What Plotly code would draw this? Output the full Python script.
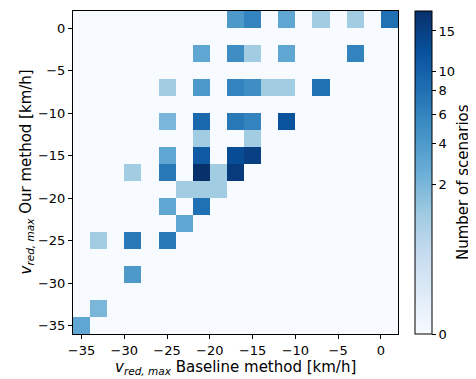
import plotly.graph_objects as go

# bin centres (2 km/h bins from -36 to 2)
bin_centers = [-35, -33, -31, -29, -27, -25, -23, -21, -19, -17, -15, -13, -11, -9, -7, -5, -3, -1, 1]

# non-empty cells: baseline (x), our method (y), count
cell_x = [-17, -15, -11, -7, -3, 1,
          -21, -17, -15, -11, -3,
          -25, -21, -17, -15, -13, -11, -7,
          -25, -21, -17, -15, -11,
          -21, -15,
          -25, -21, -17, -15,
          -29, -25, -21, -19, -17,
          -23, -21, -19,
          -25, -21,
          -23,
          -33, -29, -25,
          -29,
          -33,
          -35]
cell_y = [1, 1, 1, 1, 1, 1,
          -3, -3, -3, -3, -3,
          -7, -7, -7, -7, -7, -7, -7,
          -11, -11, -11, -11, -11,
          -13, -13,
          -15, -15, -15, -15,
          -17, -17, -17, -17, -17,
          -19, -19, -19,
          -21, -21,
          -23,
          -25, -25, -25,
          -29,
          -33,
          -35]
cell_count = [4, 6, 3, 1, 1, 8,
              3, 5, 1, 3, 6,
              1, 4, 6, 5, 1, 1, 8,
              2, 9, 7, 6, 12,
              1, 1,
              3, 11, 13, 15,
              1, 7, 18, 1, 16,
              1, 1, 1,
              3, 8,
              3,
              1, 7, 7,
              4,
              2,
              3]

cbar_ticks = [0, 2, 4, 6, 8, 10, 15]
VMAX = 18.0
GAMMA = 0.35

def norm(v):
    return (v / VMAX) ** GAMMA

n = len(bin_centers)
z = [[0.0] * n for _ in range(n)]
for x, y, c in zip(cell_x, cell_y, cell_count):
    z[bin_centers.index(y)][bin_centers.index(x)] = norm(c)

blues = ["#f7fbff", "#deebf7", "#c6dbef", "#9ecae1", "#6baed6",
         "#4292c6", "#2171b5", "#08519c", "#08306b"]
colorscale = [[i / 8, c] for i, c in enumerate(blues)]

font = "DejaVu Sans"

# page body has an 8px default margin; figure sized to fit the 476x379 window
OFF = 8
W, H = 476 - OFF, 379 - OFF
L, R, T, B = 73 - OFF, 78, 11 - OFF, 45
PW, PH = W - L - R, H - T - B

def px_x(p):  # screen pixel -> paper x
    return (p - OFF - L) / PW

def px_y(p):  # screen pixel -> paper y
    return (H - B - (p - OFF)) / PH

fig = go.Figure(go.Heatmap(
    x=bin_centers, y=bin_centers, z=z,
    zmin=0, zmax=1, colorscale=colorscale,
    hoverinfo="skip",
    colorbar=dict(
        x=px_x(415), xanchor="left", xpad=0, ypad=0,
        y=0.5, yanchor="middle", len=1, lenmode="fraction",
        thickness=17, outlinewidth=1, outlinecolor="black",
        tickvals=[norm(v) for v in cbar_ticks],
        ticktext=[str(v) for v in cbar_ticks],
        ticks="outside", ticklen=4, tickcolor="black",
        tickfont=dict(family=font, size=13, color="black"),
    ),
))

axis_common = dict(
    range=[-36, 2], tickvals=[-35, -30, -25, -20, -15, -10, -5, 0],
    ticks="outside", ticklen=4, tickcolor="black",
    showline=True, linecolor="black", linewidth=1, mirror=True,
    showgrid=False, zeroline=False, automargin=False,
    tickfont=dict(family=font, size=13, color="black"),
)

title_font = dict(family=font, size=15, color="black")

fig.update_layout(
    width=W, height=H,
    margin=dict(l=L, r=R, t=T, b=B, autoexpand=False),
    paper_bgcolor="white", plot_bgcolor="white",
    font=dict(family=font, color="black"),
    xaxis=axis_common,
    yaxis=axis_common,
    annotations=[
        dict(text="<i>v</i><sub><i>red, max</i></sub> Baseline method [km/h]",
             xref="paper", yref="paper", x=0.5, y=px_y(367),
             xanchor="center", yanchor="middle", showarrow=False, font=title_font),
        dict(text="<i>v</i><sub><i>red, max</i></sub> Our method [km/h]",
             xref="paper", yref="paper", x=px_x(26), y=0.5, textangle=-90,
             xanchor="center", yanchor="middle", showarrow=False, font=title_font),
        dict(text="Number of scenarios",
             xref="paper", yref="paper", x=px_x(463), y=px_y(182), textangle=-90,
             xanchor="center", yanchor="middle", showarrow=False, font=title_font),
    ],
)

fig.write_html("out.html")
